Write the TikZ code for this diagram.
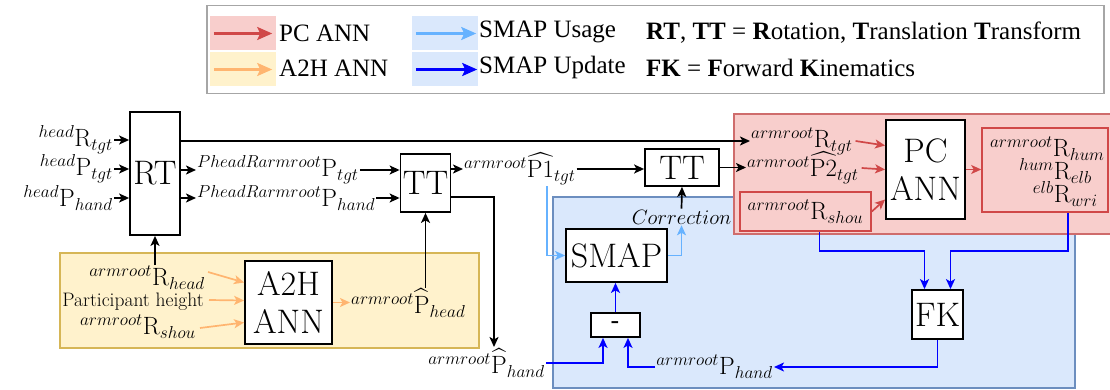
\documentclass[tikz,border=0pt]{standalone}
\usepackage{amsmath}
\usepackage{fontspec}
\newfontfamily\legfont{Liberation Serif}
\usetikzlibrary{arrows.meta,calc}
\DeclareMathSizes{25}{25}{18}{14}
\DeclareMathSizes{20}{20}{15}{12}
\definecolor{pinkfill}{HTML}{F8CECC}
\definecolor{pinkline}{HTML}{CF6C6C}
\definecolor{redarr}{HTML}{D04848}
\definecolor{yelfill}{HTML}{FFF2CC}
\definecolor{yelline}{HTML}{D6B656}
\definecolor{orarr}{HTML}{FFB570}
\definecolor{bluefill}{HTML}{DAE8FC}
\definecolor{blueline}{HTML}{6C8EBF}
\definecolor{lblue}{HTML}{66B2FF}
\definecolor{dblue}{HTML}{0000FF}
\begin{document}
\begin{tikzpicture}[x=1pt,y=-1pt,
 blk/.style={draw=black,line width=1.8pt,fill=white,inner sep=0pt,align=center,font=\fontsize{34}{38}\selectfont},
 lab/.style={inner sep=1pt,font=\fontsize{25}{28}\selectfont},
 tip/.style={-{Stealth[length=10pt,width=9pt,inset=2.5pt]}},
 arr/.style={tip,line width=1.7pt,draw=black},
 rarr/.style={tip,line width=1.7pt,draw=redarr},
 oarr/.style={tip,line width=1.7pt,draw=orarr},
 lbarr/.style={tip,line width=1.7pt,draw=lblue},
 barr/.style={tip,line width=1.7pt,draw=dblue},
 region/.style={line width=1.6pt},
 redbox/.style={draw=redarr,line width=1.6pt},
 legtxt/.style={anchor=west,inner sep=0pt,font=\legfont\fontsize{25}{28}\selectfont},
 swatch/.style={minimum width=66pt,minimum height=34pt,inner sep=0pt},
 bigtip/.style={-{Stealth[length=15pt,width=13pt,inset=3pt]},line width=2.4pt}
]
\useasboundingbox (0,0) rectangle (1110,390);

% ---------- legend ----------
\node[draw=black!35,line width=1.5pt,minimum width=897pt,minimum height=88pt,anchor=north west,inner sep=0pt] (leg) at (206,5) {};
\node[swatch,fill=pinkfill] (sw1) at (243,33.5) {};
\node[swatch,fill=yelfill] (sw2) at (243,69.5) {};
\node[swatch,fill=bluefill] (sw3) at (445,33.5) {};
\node[swatch,fill=bluefill] (sw4) at (445,69.5) {};
\draw[bigtip,draw=redarr] ($(sw1.west)+(4,0)$) -- ($(sw1.east)+(-4,0)$);
\draw[bigtip,draw=orarr] ($(sw2.west)+(4,0)$) -- ($(sw2.east)+(-4,0)$);
\draw[bigtip,draw=lblue] ($(sw3.west)+(4,0)$) -- ($(sw3.east)+(-2,0)$);
\draw[bigtip,draw=dblue] ($(sw4.west)+(4,0)$) -- ($(sw4.east)+(-1,0)$);
\node[legtxt] (l1) at (279,33) {PC ANN};
\node[legtxt] (l2) at (279,68) {A2H ANN};
\node[legtxt] (l3) at (479,32) {SMAP Usage};
\node[legtxt] (l4) at (479,67) {SMAP Update};
\node[legtxt] (l5) at (646,33) {\textbf{RT}, \textbf{TT} = \textbf{R}otation, \textbf{T}ranslation \textbf{T}ransform};
\node[legtxt] (l6) at (646,68) {\textbf{FK} = \textbf{F}orward \textbf{K}inematics};

% ---------- regions ----------
\path[fill=yelfill,draw=yelline,region] (60,253) rectangle (479,348);
\path[fill=bluefill,draw=blueline,region] (553,197) rectangle (1075,388);
\path[fill=pinkfill,draw=pinkline,region] (734,114) rectangle (1120,234);

% ---------- blocks ----------
\node[blk,minimum width=50pt,minimum height=123pt] (RT) at (155,173.5) {RT};
\node[blk,minimum width=50pt,minimum height=58pt] (TT1) at (425.5,183) {TT};
\node[blk,minimum width=74pt,minimum height=37pt] (TT2) at (682,167.5) {TT};
\node[blk,minimum width=79pt,minimum height=99pt] (PC) at (925.5,169.5) {PC\\ANN};
\node[blk,minimum width=87pt,minimum height=83pt] (A2H) at (288.5,302.5) {A2H\\ANN};
\node[blk,minimum width=101pt,minimum height=53pt] (SMAP) at (616.5,255.5) {SMAP};
\node[blk,minimum width=51pt,minimum height=49pt] (FK) at (937.5,314.5) {FK};
\node[blk,minimum width=49pt,minimum height=24pt,font=\bfseries\fontsize{22}{22}\selectfont] (minus) at (615.5,325) {-};
\node[redbox,minimum width=131pt,minimum height=39pt,inner sep=0pt,font=\fontsize{25}{28}\selectfont] (Rshou) at (805.5,211.5) {$^{armroot}\mathrm{R}_{shou}$};
\node[redbox,minimum width=126pt,minimum height=84pt,inner sep=0pt] (Out) at (1045,170) {};
\node[lab,anchor=base east] (o1) at (1071,157) {$^{armroot}\mathrm{R}\rlap{$_{hum}$}$};
\node[lab,anchor=base east] (o2) at (1072,180) {$^{hum}\mathrm{R}\rlap{$_{elb}$}$};
\node[lab,anchor=base east] (o3) at (1072,203) {$^{elb}\mathrm{R}\rlap{$_{wri}$}$};

% ---------- labels ----------
\node[lab,anchor=east] (hRt) at (114,140) {$^{head}\mathrm{R}_{tgt}$};
\node[lab,anchor=east] (hPt) at (114,169) {$^{head}\mathrm{P}_{tgt}$};
\node[lab,anchor=east] (hPh) at (114,198) {$^{head}\mathrm{P}_{hand}$};
\node[lab,anchor=west] (pPt) at (196,170) {$^{PheadRarmroot}\mathrm{P}_{tgt}$};
\node[lab,anchor=west] (pPh) at (196,198) {$^{PheadRarmroot}\mathrm{P}_{hand}$};
\node[lab,anchor=west] (P1) at (463,169) {$^{armroot}\widehat{\mathrm{P}1}_{tgt}$};
\node[lab,anchor=west] (aRt) at (750,141) {$^{armroot}\mathrm{R}_{tgt}$};
\node[lab,anchor=west] (aP2) at (746,168) {$^{armroot}\widehat{\mathrm{P}2}_{tgt}$};
\node[lab,anchor=east] (aRh) at (206,278) {$^{armroot}\mathrm{R}_{head}$};
\node[inner sep=1pt,anchor=east,font=\fontsize{19.5}{22}\selectfont] (ph) at (205,302) {Participant height};
\node[lab,anchor=east] (aRs) at (197,327) {$^{armroot}\mathrm{R}_{shou}$};
\node[lab,anchor=west] (Phd) at (350,303) {$^{armroot}\widehat{\mathrm{P}}_{head}$};
\node[lab,anchor=east] (Phh) at (546,363) {$^{armroot}\widehat{\mathrm{P}}_{hand}$};
\node[lab,anchor=east] (aPh) at (774,367) {$^{armroot}\mathrm{P}_{hand}$};
\node[inner sep=1pt,font=\fontsize{20}{24}\selectfont] (corr) at (681.5,217) {$Correction$};
\coordinate (phtop) at (494,347);

% ---------- black connectors ----------
\draw[arr] (hRt.east) -- (hRt.east -| RT.west);
\draw[arr] (hPt.east) -- (hPt.east -| RT.west);
\draw[arr] (hPh.east) -- (hPh.east -| RT.west);
\draw[arr] (RT.east |- aRt.west) -- (aRt.west);
\draw[arr] (RT.east |- pPt.west) -- (pPt.west);
\draw[arr] (RT.east |- pPh.west) -- (pPh.west);
\draw[arr] (pPt.east) -- (pPt.east -| TT1.west);
\draw[arr] (pPh.east) -- (pPh.east -| TT1.west);
\draw[arr] (TT1.east |- P1.west) -- (P1.west);
\draw[arr] (P1.east) -- (P1.east -| TT2.west);
\draw[arr] (TT2.east) -- (TT2.east -| aP2.west);
\draw[arr] ($(TT1.east)+(0,14)$) -| (phtop);
\draw[arr] (Phd.north -| TT1.south) -- (TT1.south);
\draw[arr] (aRh.north -| RT.south) -- (RT.south);
\draw[arr] (corr.north) -- (TT2.south);

% ---------- orange ----------
\draw[oarr] ($(aRh.east)+(2,-6)$) -- ($(A2H.west)+(0,-20)$);
\draw[oarr] ($(ph.east)+(4,-2)$) -- ($(A2H.west)+(0,-2)$);
\draw[oarr] ($(aRs.east)+(3,1)$) -- ($(A2H.west)+(0,20)$);
\draw[oarr] (A2H.east) -- (A2H.east -| Phd.west);

% ---------- red ----------
\draw[rarr] ($(aRt.east)+(2,0)$) -- ($(PC.west)+(0,-24)$);
\draw[rarr] ($(aP2.east)+(2,0)$) -- (PC.west);
\draw[rarr] (Rshou.east) -- ($(PC.west)+(0,30)$);
\draw[rarr] (PC.east) -- (PC.east -| Out.west);

% ---------- light blue ----------
\draw[lbarr] ($(P1.south west)+(84,0)$) |- (SMAP.west);
\draw[lbarr] (SMAP.east) -| (corr.south);

% ---------- dark blue ----------
\draw[barr] ($(Rshou.south)+(14,0)$) |- ($(FK.north)+(-13,-38)$) -- ($(FK.north)+(-13,0)$);
\draw[barr] ($(Out.south)+(23,0)$) |- ($(FK.north)+(13,-38)$) -- ($(FK.north)+(13,0)$);
\draw[barr] (FK.south) |- (aPh.east);
\draw[barr] (aPh.west) -| ($(minus.south)+(12.5,0)$);
\draw[barr] (Phh.east) -| ($(minus.south)+(-12.5,0)$);
\draw[barr] (minus.north) -- (minus.north |- SMAP.south);
\end{tikzpicture}
\end{document}
